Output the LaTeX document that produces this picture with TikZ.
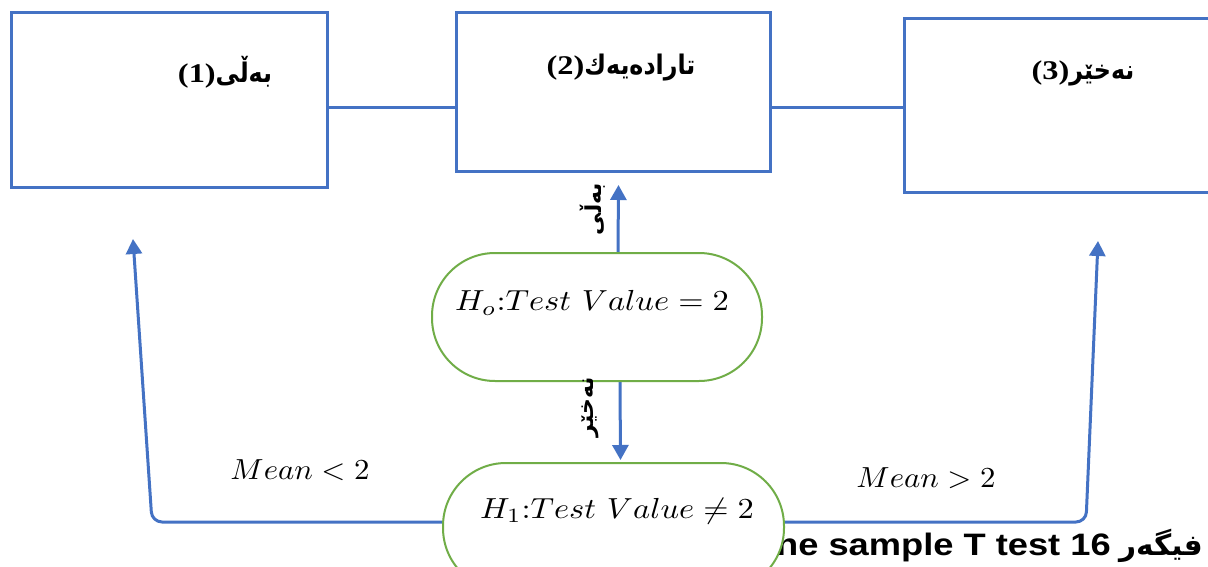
\documentclass[tikz,border=0pt]{standalone}
\usepackage{fontspec}
\usepackage{graphicx}
\usetikzlibrary{arrows.meta}
\TeXXeTstate=1
\newfontfamily\arfont[Script=Arabic]{DejaVu Sans}
\newfontfamily\serifb{Liberation Serif}
\newfontfamily\sansb{Liberation Sans}
\definecolor{wblue}{HTML}{4472C4}
\definecolor{wgreen}{HTML}{70AD47}
\newcommand{\boxtxt}[2]{{\serifb\fontsize{27}{30}\selectfont\scalebox{1.2}[1]{(#1)}}{\arfont\fontsize{27}{30}\selectfont\scalebox{0.88}[1]{\beginR #2\endR}}}
\begin{document}
\begin{tikzpicture}[x=1pt,y=-1pt,
  box/.style={draw=wblue, line width=3pt, inner sep=0pt, anchor=north west},
  conn/.style={draw=wblue, line width=3pt},
  arr/.style={draw=wblue, line width=3pt, -{Triangle[width=16pt,length=15pt]}},
  stad/.style={draw=wgreen, line width=2pt, fill=white, rounded corners=63pt, inner sep=0pt},
  boxlabel/.style={inner sep=0pt, font=\bfseries},
  mathlabel/.style={scale=2.9, xscale=1.12},
  sidelabel/.style={rotate=90, inner sep=0pt, font=\arfont\bfseries\fontsize{22}{24}\selectfont}]
\useasboundingbox (0,0) rectangle (1208,567);
\clip (0,0) rectangle (1208,567);
\fill[white] (0,0) rectangle (1208,567);
% boxes
\node[box, minimum width=316pt, minimum height=175pt] (b1) at (10,11) {};
\node[box, minimum width=314pt, minimum height=159pt] (b2) at (455,11) {};
\node[box, minimum width=320pt, minimum height=174pt] (b3) at (903,17) {};
\coordinate (ly) at (0,108);
\draw[conn] (b1.east |- ly) -- (b2.west |- ly);
\draw[conn] (b2.east |- ly) -- (b3.west |- ly);
\node[boxlabel] (t1) at (225,72) {\boxtxt{1}{بەڵی}};
\node[boxlabel] (t2) at (621,68) {\boxtxt{2}{تارادەیەك}};
\node[boxlabel] (t3) at (1083,73) {\boxtxt{3}{نەخێر}};
% caption text (partly hidden by the lower stadium)
\node[anchor=base east, inner sep=0pt, xscale=1.17, font=\sansb\bfseries\fontsize{31}{36}\selectfont] (cap) at (1111,555)
  {One sample T test 16};
\node[anchor=base west, inner sep=0pt, font=\arfont\bfseries\fontsize{29}{32}\selectfont] (capar) at (1119,555)
  {\scalebox{1.02}[1]{\beginR فیگەر\endR}};
% stadium positions (defined first for connectors)
\path (597,317) coordinate (h0c) (613.5,527) coordinate (h1c);
\node[stad, minimum width=330pt, minimum height=128pt, draw=none, fill=none] (h0) at (h0c) {};
\node[stad, minimum width=341pt, minimum height=128pt, draw=none, fill=none] (h1) at (h1c) {};
% connectors
\coordinate (lcorner) at (152,522);
\coordinate (ltip) at (133,239);
\coordinate (rcorner) at (1086,522);
\coordinate (rtip) at (1098,241);
\draw[arr, rounded corners=10pt] ([yshift=5pt]h1.west) -- (lcorner) -- (ltip);
\draw[arr, rounded corners=10pt] ([yshift=5pt]h1.east) -- (rcorner) -- (rtip);
\draw[arr] ([xshift=21pt]h0.north) -- ([xshift=5pt,yshift=-12pt]b2.south);
\draw[arr] ([xshift=23pt]h0.south) -- ([xshift=7pt,yshift=2pt]h1.north);
% stadiums
\node[stad, minimum width=330pt, minimum height=128pt] (h0s) at (h0c) {};
\node[stad, minimum width=341pt, minimum height=128pt] (h1s) at (h1c) {};
\node[mathlabel] (h0t) at (592,303) {$H_o{:}Test\ Value=2$};
\node[mathlabel] (h1t) at (617,511) {$H_1{:}Test\ Value\neq2$};
\node[mathlabel, xscale=0.95] (mlt) at (300,470) {$Mean<2$};
\node[mathlabel, xscale=0.95] (mgt) at (926,478) {$Mean>2$};
\node[sidelabel] (yes) at (593,209) {\beginR بەڵی\endR};
\node[sidelabel] (no) at (590,407) {\beginR نەخێر\endR};
\end{tikzpicture}
\end{document}
